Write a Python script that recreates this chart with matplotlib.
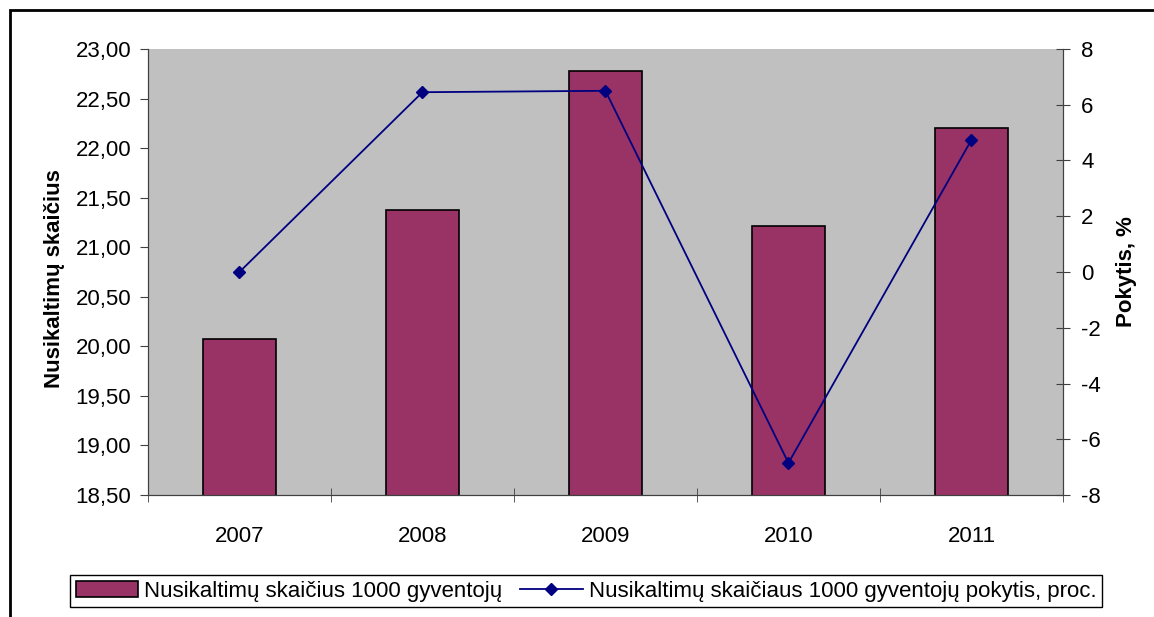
import matplotlib.pyplot as plt
from matplotlib.ticker import FuncFormatter, FixedLocator
from matplotlib.patches import Rectangle

plt.rcParams['font.family'] = ['Liberation Sans', 'DejaVu Sans']
plt.rcParams['axes.unicode_minus'] = False

# --- Data ---
years = ['2007', '2008', '2009', '2010', '2011']
crimes_per_1000 = [20.07, 21.38, 22.78, 21.21, 22.20]
change_pct = [0.0, 6.45, 6.50, -6.85, 4.74]

bar_color = '#993366'
line_color = '#000080'

fig = plt.figure(figsize=(11.54, 6.17), dpi=100)
ax = fig.add_axes([0.1282, 0.1977, 0.7929, 0.7229])
ax.set_facecolor('#C0C0C0')

x = list(range(len(years)))
bars = ax.bar(x, crimes_per_1000, width=0.4, color=bar_color, edgecolor='black',
              linewidth=1.2, zorder=2)
ax.set_ylim(18.5, 23.0)
ax.set_xlim(-0.5, len(years) - 0.5)
ax.set_yticks([18.5 + 0.5 * i for i in range(10)])
ax.yaxis.set_major_formatter(FuncFormatter(lambda v, p: f"{v:.2f}".replace('.', ',')))
ax.set_xticks(x)
ax.set_xticklabels(years)
ax.xaxis.set_minor_locator(FixedLocator([i - 0.5 for i in range(len(years) + 1)]))
ax.tick_params(axis='x', which='major', length=0, pad=22, labelsize=16)
ax.tick_params(axis='x', which='minor', length=10, direction='inout', color='#404040')
ax.tick_params(axis='y', length=6, direction='out', labelsize=16, pad=6, color='#404040')
ax.set_ylabel('Nusikaltimų skaičius', fontsize=16, fontweight='bold')
ax.yaxis.set_label_coords(-0.091, 0.485)

for s in ['top']:
    ax.spines[s].set_visible(False)
for s in ['left', 'right', 'bottom']:
    ax.spines[s].set_color('#404040')

ax2 = ax.twinx()
ax2.plot(x, change_pct, color=line_color, marker='D', markersize=6, linewidth=1.3,
         zorder=3)
ax2.set_ylim(-8, 8)
ax2.set_yticks(range(-8, 9, 2))
ax2.tick_params(axis='y', length=10, direction='inout', labelsize=16, pad=8, color='#404040')
ax2.set_ylabel('Pokytis, %', fontsize=16, fontweight='bold', labelpad=11)
ax2.spines['top'].set_visible(False)
for s in ['left', 'right', 'bottom']:
    ax2.spines[s].set_color('#404040')

# Outer chart border (cropped at right and bottom)
fig.patches.append(Rectangle((10 / 1154, -0.05), 1.2, 1 - 10 / 617 + 0.05,
                             transform=fig.transFigure, fill=False,
                             edgecolor='black', linewidth=2))

handles = [bars, ax2.lines[0]]
labels = ['Nusikaltimų skaičius 1000 gyventojų',
          'Nusikaltimų skaičiaus 1000 gyventojų pokytis, proc.']
leg = fig.legend(handles, labels, loc='center', bbox_to_anchor=(0.508, 0.042), ncol=2,
                 fontsize=16, frameon=True, fancybox=False, edgecolor='black',
                 handlelength=2.8, handletextpad=0.3, columnspacing=0.8,
                 borderpad=0.25, framealpha=1)
leg.get_frame().set_linewidth(1)

fig.savefig('out.png', dpi=100)
